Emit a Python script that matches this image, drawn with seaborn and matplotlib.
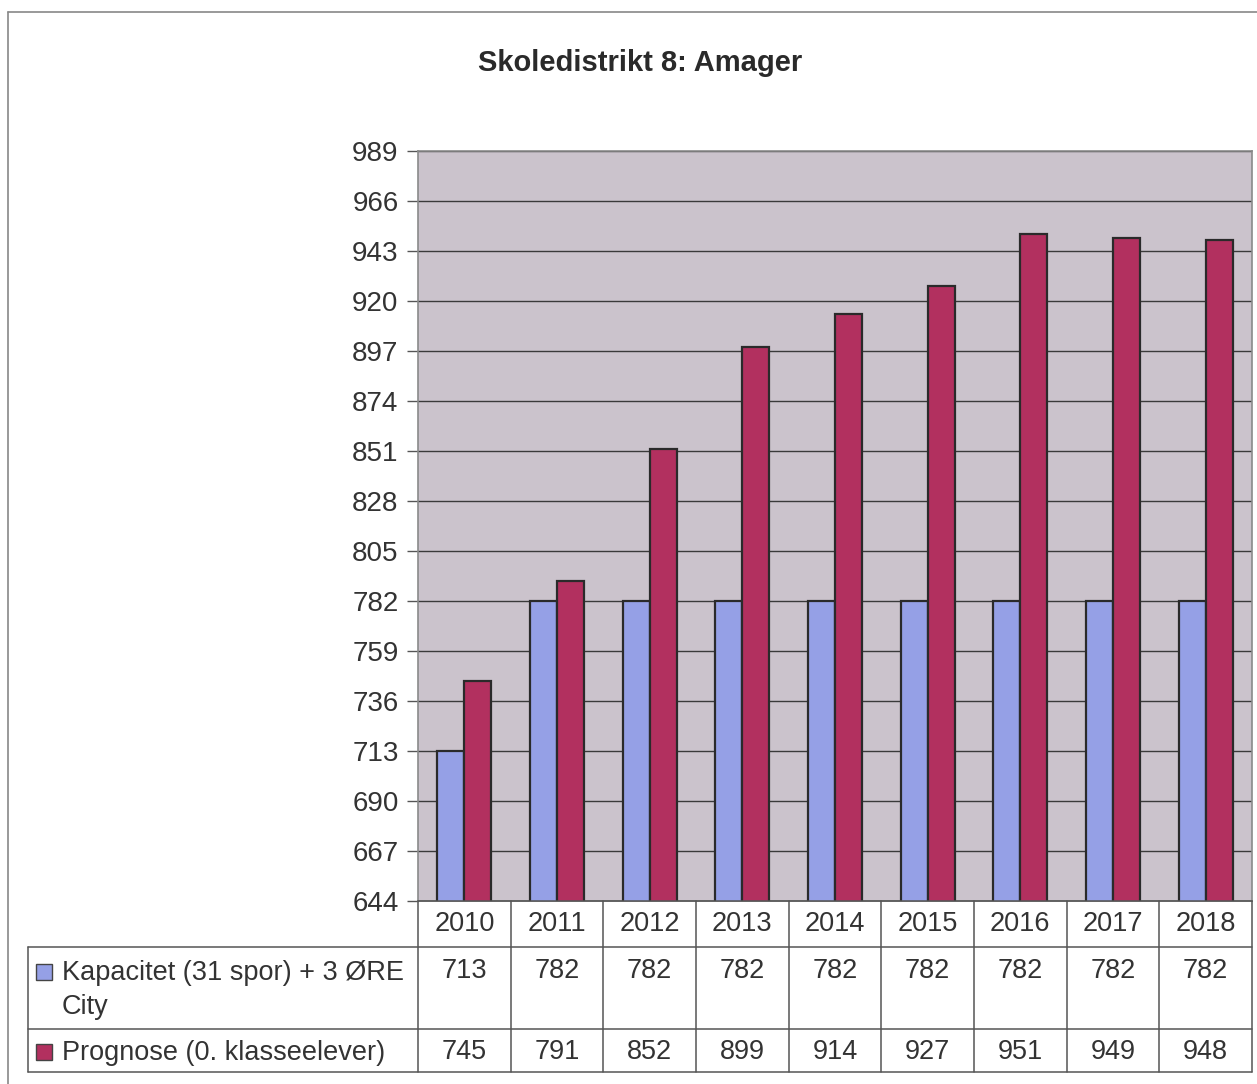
import matplotlib
matplotlib.use("Agg")
import matplotlib.pyplot as plt
import seaborn as sns
import pandas as pd
from matplotlib.patches import Rectangle
from matplotlib.lines import Line2D

years = ["2010", "2011", "2012", "2013", "2014", "2015", "2016", "2017", "2018"]
kapacitet = [713, 782, 782, 782, 782, 782, 782, 782, 782]
prognose = [745, 791, 852, 899, 914, 927, 951, 949, 948]
series_names = ["Kapacitet (31 spor) + 3 ØRE\nCity", "Prognose (0. klasseelever)"]
yticks = [644, 667, 690, 713, 736, 759, 782, 805, 828, 851, 874, 897, 920, 943, 966, 989]
title = "Skoledistrikt 8: Amager"

blue = "#95a0e6"
red = "#b2305f"
bg = "#cbc3cc"

sns.set_theme(style="white")
plt.rcParams["font.family"] = ["Liberation Sans", "DejaVu Sans"]

df = pd.DataFrame({
    "year": years * 2,
    "value": kapacitet + prognose,
    "series": [series_names[0]] * len(years) + [series_names[1]] * len(years),
})

W, H = 1257, 1084
fig = plt.figure(figsize=(W / 100, H / 100), dpi=100)

def fx(px):
    return px / W

def fy(py):
    return 1 - py / H

L, R, T, B = 418, 1252, 151, 901
ax = fig.add_axes([fx(L), fy(B), fx(R) - fx(L), fy(T) - fy(B)])
ax.set_facecolor(bg)

sns.barplot(data=df, x="year", y="value", hue="series", palette=[blue, red],
            saturation=1, width=0.58, gap=0, edgecolor="#2a2a2a", linewidth=1.6,
            ax=ax, legend=False, zorder=3)

ax.set_ylim(644, 989)
ax.set_yticks(yticks)
ax.set_yticklabels([str(v) for v in yticks], fontsize=20, color="#333333")
ax.yaxis.grid(True, color="#3a3a3a", linewidth=1.0, zorder=0)
ax.set_axisbelow(True)
ax.tick_params(axis="y", length=8, width=1, color="#555555", left=True, pad=6)
ax.set_xticks([])
ax.set_xlabel("")
ax.set_ylabel("")
ax.set_xlim(-0.5, len(years) - 0.5)
for s in ax.spines.values():
    s.set_color("#8a8a8a")
    s.set_linewidth(1.2)

# title
fig.text(fx(640), fy(63), title, ha="center", va="center", fontsize=21,
         fontweight="bold", color="#2a2a2a")

# outer frame
fig.add_artist(Line2D([fx(8), fx(8)], [fy(12), fy(1084)], color="#888888", lw=1.2))
fig.add_artist(Line2D([fx(8), fx(1257)], [fy(12), fy(12)], color="#888888", lw=1.2))

# data table
row_y = [901, 947, 1029, 1072]
tab_left = 28
col_w = (R - L) / len(years)
lc = "#555555"
lw = 1.1
fig.add_artist(Line2D([fx(L), fx(R)], [fy(row_y[0]), fy(row_y[0])], color=lc, lw=lw))
for yy in row_y[1:]:
    fig.add_artist(Line2D([fx(tab_left), fx(R)], [fy(yy), fy(yy)], color=lc, lw=lw))
for i in range(len(years) + 1):
    xx = L + i * col_w
    fig.add_artist(Line2D([fx(xx), fx(xx)], [fy(row_y[0]), fy(row_y[3])], color=lc, lw=lw))
fig.add_artist(Line2D([fx(tab_left), fx(tab_left)], [fy(row_y[1]), fy(row_y[3])], color=lc, lw=lw))

tc = "#333333"
fs = 19.5
for i, yv in enumerate(years):
    cx = L + (i + 0.5) * col_w
    fig.text(fx(cx), fy(924), yv, ha="center", va="center", fontsize=fs, color=tc)
    fig.text(fx(cx), fy(971), str(kapacitet[i]), ha="center", va="center", fontsize=fs, color=tc)
    fig.text(fx(cx), fy(1052), str(prognose[i]), ha="center", va="center", fontsize=fs, color=tc)

for (ky, col, name) in [(972, blue, series_names[0]), (1052, red, series_names[1])]:
    sq = 16
    fig.add_artist(Rectangle((fx(36), fy(ky + sq / 2)), fx(sq), fy(0) - fy(sq),
                             facecolor=col, edgecolor="#444444", lw=1.0,
                             transform=fig.transFigure))
    fig.text(fx(62), fy(ky - 12), name, ha="left", va="top", fontsize=fs,
             color=tc, linespacing=1.4)

fig.savefig("out.png", dpi=100, facecolor="white")
